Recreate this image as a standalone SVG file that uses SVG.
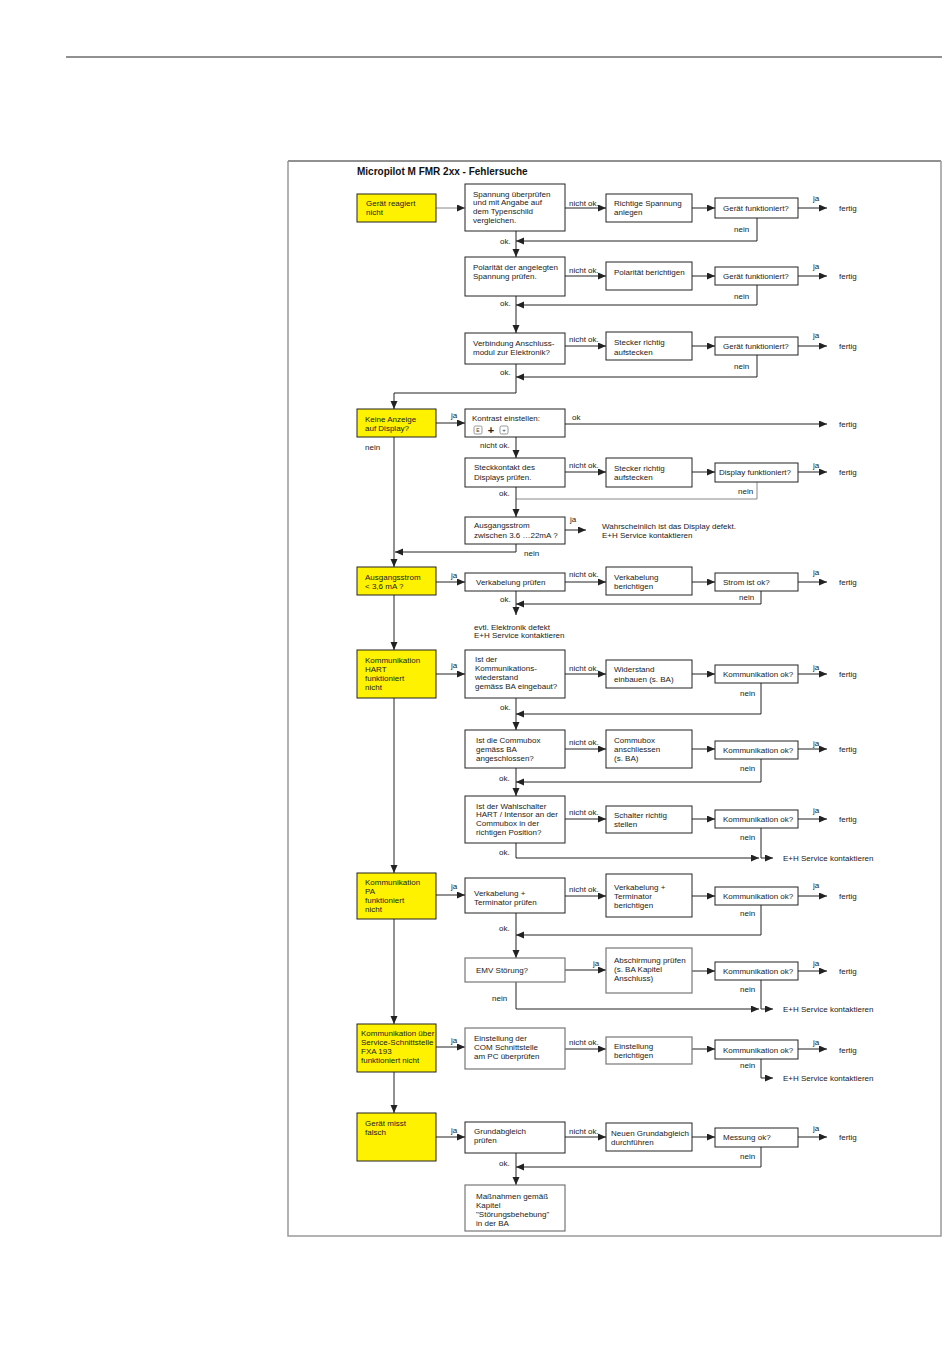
<svg xmlns="http://www.w3.org/2000/svg" width="950" height="1370" viewBox="0 0 950 1370">
<style>
.t{font-family:"Liberation Sans",Arial,sans-serif;font-size:8px;fill:#222}
.ti{font-family:"Liberation Sans",Arial,sans-serif;font-size:10px;font-weight:bold;fill:#111}
.b{fill:#fff;stroke:#222;stroke-width:1}
.bg{fill:#fff;stroke:#777;stroke-width:1.2}
.y{fill:#fff200;stroke:#222;stroke-width:1}
.c{fill:none;stroke:#222;stroke-width:1}
.cg{fill:none;stroke:#888;stroke-width:1}
.a{marker-end:url(#ah)}
.k{fill:#fff;stroke:#555;stroke-width:0.6}
</style>
<defs>
<marker id="ah" markerUnits="userSpaceOnUse" markerWidth="9" markerHeight="8" refX="8" refY="3.5" orient="auto">
<path d="M0,0 L8,3.5 L0,7 z" fill="#222"/>
</marker>
</defs>
<rect width="950" height="1370" fill="#fff"/>
<g id="page">
<line x1="66" y1="57" x2="942" y2="57" stroke="#222" stroke-width="1"/>
<line x1="288" y1="161" x2="941" y2="161" stroke="#222" stroke-width="1"/>
<path d="M288,161 V1236 H941 V161" fill="none" stroke="#999" stroke-width="1.5"/>
<text class="ti" x="357" y="175">Micropilot M FMR 2xx - Fehlersuche</text>
</g>
<g id="connectors">
<path class="cg a" d="M436,208 H465"/>
<path class="c a" d="M565,208 H606"/>
<path class="c a" d="M692,208 H715"/>
<path class="c a" d="M798,208 H827"/>
<path class="c a" d="M757,218 V241 H516"/>
<path class="c a" d="M516,231 V257"/>
<path class="c a" d="M565,276 H606"/>
<path class="c a" d="M692,276 H715"/>
<path class="c a" d="M798,276 H827"/>
<path class="c a" d="M757,285 V305 H516"/>
<path class="c a" d="M516,296 V333"/>
<path class="c a" d="M565,346 H606"/>
<path class="c a" d="M692,346 H715"/>
<path class="c a" d="M798,346 H827"/>
<path class="c a" d="M757,355 V377 H516"/>
<path class="c a" d="M516,364 V393 H394 V409"/>
<path class="c a" d="M436,423 H465"/>
<path class="c a" d="M565,424 H827"/>
<path class="c a" d="M516,437 V458"/>
<path class="c a" d="M565,472 H606"/>
<path class="c a" d="M692,472 H715"/>
<path class="c a" d="M798,472 H827"/>
<path class="cg" d="M757,482 V499 H516"/>
<path class="c a" d="M516,487 V517"/>
<path class="c a" d="M565,530 H586"/>
<path class="c a" d="M516,544 V552 H395"/>
<path class="c a" d="M394,437 V567"/>
<path class="c a" d="M394,595 V650"/>
<path class="c a" d="M394,698 V873"/>
<path class="c a" d="M394,919 V1024"/>
<path class="c a" d="M394,1072 V1113"/>
<path class="c a" d="M436,582 H465"/>
<path class="c a" d="M565,582 H606"/>
<path class="c a" d="M692,582 H715"/>
<path class="c a" d="M798,582 H827"/>
<path class="c a" d="M761,591 V604 H516"/>
<path class="c a" d="M516,591 V615"/>
<path class="c a" d="M436,674 H465"/>
<path class="c a" d="M565,674 H606"/>
<path class="c a" d="M692,674 H715"/>
<path class="c a" d="M798,674 H827"/>
<path class="c a" d="M761,683 V714 H516"/>
<path class="c a" d="M516,698 V730"/>
<path class="c a" d="M565,749 H606"/>
<path class="c a" d="M692,749 H715"/>
<path class="c a" d="M798,749 H827"/>
<path class="c a" d="M761,759 V782 H516"/>
<path class="c a" d="M516,768 V796"/>
<path class="c a" d="M565,819 H606"/>
<path class="c a" d="M692,819 H715"/>
<path class="c a" d="M798,819 H827"/>
<path class="c a" d="M516,843 V858 H759"/>
<path class="c a" d="M761,828 V858 H773"/>
<path class="c a" d="M436,895 H465"/>
<path class="c a" d="M565,896 H606"/>
<path class="c a" d="M692,896 H715"/>
<path class="c a" d="M798,896 H827"/>
<path class="c a" d="M761,905 V935 H516"/>
<path class="c a" d="M516,913 V958"/>
<path class="c a" d="M565,970 H606"/>
<path class="c a" d="M692,971 H715"/>
<path class="c a" d="M798,971 H827"/>
<path class="c a" d="M516,982 V1009 H759"/>
<path class="c a" d="M761,980 V1009 H773"/>
<path class="c a" d="M436,1047 H465"/>
<path class="c a" d="M565,1049 H606"/>
<path class="c a" d="M692,1049 H715"/>
<path class="c a" d="M798,1049 H827"/>
<path class="c a" d="M761,1059 V1078 H773"/>
<path class="c a" d="M436,1137 H465"/>
<path class="c a" d="M565,1137 H606"/>
<path class="c a" d="M692,1137 H715"/>
<path class="c a" d="M798,1137 H827"/>
<path class="c a" d="M761,1147 V1167 H516"/>
<path class="c a" d="M516,1153 V1185"/>
</g>
<g id="labels">
<text class="t" x="569" y="205.5">nicht ok.</text>
<text class="t" x="813" y="200.5">ja</text>
<text class="t" x="839" y="211">fertig</text>
<text class="t" x="734" y="232">nein</text>
<text class="t" x="500" y="243.5">ok.</text>
<text class="t" x="569" y="272.5">nicht ok.</text>
<text class="t" x="813" y="268.5">ja</text>
<text class="t" x="839" y="279">fertig</text>
<text class="t" x="734" y="298.5">nein</text>
<text class="t" x="500" y="305.5">ok.</text>
<text class="t" x="569" y="341.5">nicht ok.</text>
<text class="t" x="813" y="337.5">ja</text>
<text class="t" x="839" y="349">fertig</text>
<text class="t" x="734" y="368.5">nein</text>
<text class="t" x="500" y="374.5">ok.</text>
<text class="t" x="451" y="417.5">ja</text>
<text class="t" x="365" y="449.5">nein</text>
<text class="t" x="572" y="419.5">ok</text>
<text class="t" x="839" y="426.5">fertig</text>
<text class="t" x="480" y="447.5">nicht ok.</text>
<text class="t" x="569" y="467.5">nicht ok.</text>
<text class="t" x="813" y="467.5">ja</text>
<text class="t" x="839" y="474.5">fertig</text>
<text class="t" x="738" y="493.5">nein</text>
<text class="t" x="499" y="495.5">ok.</text>
<text class="t" x="570" y="521.5">ja</text>
<text class="t" x="602" y="528.5">Wahrscheinlich ist das Display defekt.</text>
<text class="t" x="602" y="537.5">E+H Service kontaktieren</text>
<text class="t" x="524" y="555.5">nein</text>
<text class="t" x="451" y="577.5">ja</text>
<text class="t" x="569" y="576.5">nicht ok.</text>
<text class="t" x="813" y="574.5">ja</text>
<text class="t" x="839" y="584.5">fertig</text>
<text class="t" x="739" y="599.5">nein</text>
<text class="t" x="500" y="601.5">ok.</text>
<text class="t" x="474" y="629.5">evtl. Elektronik defekt</text>
<text class="t" x="474" y="637.5">E+H Service kontaktieren</text>
<text class="t" x="451" y="667.5">ja</text>
<text class="t" x="569" y="670.5">nicht ok.</text>
<text class="t" x="813" y="669.5">ja</text>
<text class="t" x="839" y="676.5">fertig</text>
<text class="t" x="740" y="695.5">nein</text>
<text class="t" x="500" y="709.5">ok.</text>
<text class="t" x="569" y="744.5">nicht ok.</text>
<text class="t" x="813" y="745.5">ja</text>
<text class="t" x="839" y="751.5">fertig</text>
<text class="t" x="740" y="770.5">nein</text>
<text class="t" x="499" y="780.5">ok.</text>
<text class="t" x="569" y="814.5">nicht ok.</text>
<text class="t" x="813" y="812.5">ja</text>
<text class="t" x="839" y="821.5">fertig</text>
<text class="t" x="740" y="839.5">nein</text>
<text class="t" x="499" y="854.5">ok.</text>
<text class="t" x="783" y="860.5">E+H Service kontaktieren</text>
<text class="t" x="451" y="888.5">ja</text>
<text class="t" x="569" y="891.5">nicht ok.</text>
<text class="t" x="813" y="887.5">ja</text>
<text class="t" x="839" y="898.5">fertig</text>
<text class="t" x="740" y="915.5">nein</text>
<text class="t" x="499" y="930.5">ok.</text>
<text class="t" x="593" y="965.5">ja</text>
<text class="t" x="813" y="965.5">ja</text>
<text class="t" x="839" y="973.5">fertig</text>
<text class="t" x="740" y="991.5">nein</text>
<text class="t" x="492" y="1000.5">nein</text>
<text class="t" x="783" y="1011.5">E+H Service kontaktieren</text>
<text class="t" x="451" y="1042.5">ja</text>
<text class="t" x="569" y="1044.5">nicht ok.</text>
<text class="t" x="813" y="1044.5">ja</text>
<text class="t" x="839" y="1052.5">fertig</text>
<text class="t" x="740" y="1067.5">nein</text>
<text class="t" x="783" y="1080.5">E+H Service kontaktieren</text>
<text class="t" x="451" y="1132.5">ja</text>
<text class="t" x="569" y="1134">nicht ok.</text>
<text class="t" x="813" y="1130.5">ja</text>
<text class="t" x="839" y="1139.5">fertig</text>
<text class="t" x="740" y="1158.5">nein</text>
<text class="t" x="499" y="1165.5">ok.</text>
</g>
<g id="n_geraet_reagiert"><rect class="y" x="357" y="194" width="79" height="28"/><text class="t" x="366" y="206">Gerät reagiert</text><text class="t" x="366" y="215">nicht</text></g>
<g id="n_spannung"><rect class="b" x="465" y="184" width="100" height="47"/><text class="t" x="473" y="196.5">Spannung überprüfen</text><text class="t" x="473" y="205">und mit Angabe auf</text><text class="t" x="473" y="213.5">dem Typenschild</text><text class="t" x="473" y="222.5">vergleichen.</text></g>
<g id="n_richtige_spannung"><rect class="b" x="606" y="194" width="86" height="28"/><text class="t" x="614" y="206">Richtige Spannung</text><text class="t" x="614" y="215">anlegen</text></g>
<g id="n_check1"><rect class="b" x="715" y="198" width="83" height="20"/><text class="t" x="723" y="211">Gerät funktioniert?</text></g>
<g id="n_polaritaet"><rect class="b" x="465" y="257" width="100" height="39"/><text class="t" x="473" y="270">Polarität der angelegten</text><text class="t" x="473" y="279">Spannung prüfen.</text></g>
<g id="n_polaritaet_fix"><rect class="b" x="606" y="262" width="86" height="28"/><text class="t" x="614" y="274.5">Polarität berichtigen</text></g>
<g id="n_check2"><rect class="b" x="715" y="267" width="83" height="18"/><text class="t" x="723" y="279">Gerät funktioniert?</text></g>
<g id="n_verbindung"><rect class="b" x="465" y="333" width="100" height="31"/><text class="t" x="473" y="345.5">Verbindung Anschluss-</text><text class="t" x="473" y="354.5">modul zur Elektronik?</text></g>
<g id="n_stecker1"><rect class="b" x="606" y="332" width="86" height="28"/><text class="t" x="614" y="345">Stecker richtig</text><text class="t" x="614" y="354.5">aufstecken</text></g>
<g id="n_check3"><rect class="b" x="715" y="337" width="83" height="18"/><text class="t" x="723" y="349">Gerät funktioniert?</text></g>
<g id="n_keine_anzeige"><rect class="y" x="357" y="409" width="79" height="28"/><text class="t" x="365" y="421.5">Keine Anzeige</text><text class="t" x="365" y="430.5">auf Display?</text></g>
<g id="n_kontrast"><rect class="b" x="465" y="409" width="100" height="28"/><text class="t" x="472" y="420.5">Kontrast einstellen:</text>
<rect class="k" x="474" y="426" width="8" height="8" rx="1.5"/><text x="478" y="432" text-anchor="middle" font-family="Liberation Sans, Arial, sans-serif" font-size="5" fill="#333">E</text>
<text x="491" y="434" text-anchor="middle" font-family="Liberation Sans, Arial, sans-serif" font-size="11" font-weight="bold" fill="#222">+</text>
<rect class="k" x="500" y="426" width="8" height="8" rx="1.5"/><text x="504" y="432" text-anchor="middle" font-family="Liberation Sans, Arial, sans-serif" font-size="6" fill="#333">+</text></g>
<g id="n_steckkontakt"><rect class="b" x="465" y="458" width="100" height="29"/><text class="t" x="474" y="470">Steckkontakt des</text><text class="t" x="474" y="479.5">Displays prüfen.</text></g>
<g id="n_stecker2"><rect class="b" x="606" y="458" width="86" height="29"/><text class="t" x="614" y="470.5">Stecker richtig</text><text class="t" x="614" y="479.5">aufstecken</text></g>
<g id="n_check_display"><rect class="b" x="715" y="463" width="83" height="19"/><text class="t" x="719" y="475">Display funktioniert?</text></g>
<g id="n_ausgang_22"><rect class="b" x="465" y="517" width="100" height="27"/><text class="t" x="474" y="527.5">Ausgangsstrom</text><text class="t" x="474" y="537.5">zwischen 3.6 …22mA ?</text></g>
<g id="n_ausgangsstrom"><rect class="y" x="357" y="567" width="79" height="28"/><text class="t" x="365" y="579.5">Ausgangsstrom</text><text class="t" x="365" y="588.5">&lt; 3,6 mA ?</text></g>
<g id="n_verkabelung"><rect class="b" x="465" y="573" width="100" height="18"/><text class="t" x="476" y="584.5">Verkabelung prüfen</text></g>
<g id="n_verkabelung_fix"><rect class="b" x="606" y="567" width="86" height="28"/><text class="t" x="614" y="579.5">Verkabelung</text><text class="t" x="614" y="588.5">berichtigen</text></g>
<g id="n_strom_ok"><rect class="b" x="715" y="573" width="83" height="18"/><text class="t" x="723" y="584.5">Strom ist ok?</text></g>
<g id="n_hart"><rect class="y" x="357" y="650" width="79" height="48"/><text class="t" x="365" y="662.5">Kommunikation</text><text class="t" x="365" y="671.5">HART</text><text class="t" x="365" y="680.5">funktioniert</text><text class="t" x="365" y="689.5">nicht</text></g>
<g id="n_widerstand_q"><rect class="b" x="465" y="650" width="100" height="48"/><text class="t" x="475" y="661.5">Ist der</text><text class="t" x="475" y="670.5">Kommunikations-</text><text class="t" x="475" y="679.5">wiederstand</text><text class="t" x="475" y="689">gemäss BA eingebaut?</text></g>
<g id="n_widerstand_fix"><rect class="b" x="606" y="660" width="86" height="28"/><text class="t" x="614" y="671.5">Widerstand</text><text class="t" x="614" y="681.5">einbauen (s. BA)</text></g>
<g id="n_komm1"><rect class="b" x="715" y="665" width="83" height="18"/><text class="t" x="723" y="676.5">Kommunikation ok?</text></g>
<g id="n_commubox_q"><rect class="b" x="465" y="730" width="100" height="38"/><text class="t" x="476" y="742.5">Ist die Commubox</text><text class="t" x="476" y="751.5">gemäss BA</text><text class="t" x="476" y="760.5">angeschlossen?</text></g>
<g id="n_commubox_fix"><rect class="b" x="606" y="730" width="86" height="38"/><text class="t" x="614" y="742.5">Commubox</text><text class="t" x="614" y="751.5">anschliessen</text><text class="t" x="614" y="760.5">(s. BA)</text></g>
<g id="n_komm2"><rect class="b" x="715" y="741" width="83" height="18"/><text class="t" x="723" y="752.5">Kommunikation ok?</text></g>
<g id="n_wahlschalter_q"><rect class="b" x="465" y="796" width="100" height="47"/><text class="t" x="476" y="808.5">Ist der Wahlschalter</text><text class="t" x="476" y="816.5">HART / Intensor an der</text><text class="t" x="476" y="825.5">Commubox in der</text><text class="t" x="476" y="834.5">richtigen Position?</text></g>
<g id="n_schalter_fix"><rect class="b" x="606" y="806" width="86" height="27"/><text class="t" x="614" y="817.5">Schalter richtig</text><text class="t" x="614" y="826.5">stellen</text></g>
<g id="n_komm3"><rect class="b" x="715" y="810" width="83" height="18"/><text class="t" x="723" y="822">Kommunikation ok?</text></g>
<g id="n_pa"><rect class="y" x="357" y="873" width="79" height="46"/><text class="t" x="365" y="884.5">Kommunikation</text><text class="t" x="365" y="893.5">PA</text><text class="t" x="365" y="902.5">funktioniert</text><text class="t" x="365" y="911.5">nicht</text></g>
<g id="n_terminator_q"><rect class="b" x="465" y="878" width="100" height="35"/><text class="t" x="474" y="895.5">Verkabelung +</text><text class="t" x="474" y="904.5">Terminator prüfen</text></g>
<g id="n_terminator_fix"><rect class="b" x="606" y="874" width="86" height="43"/><text class="t" x="614" y="889.5">Verkabelung +</text><text class="t" x="614" y="898.5">Terminator</text><text class="t" x="614" y="907.5">berichtigen</text></g>
<g id="n_komm4"><rect class="b" x="715" y="887" width="83" height="18"/><text class="t" x="723" y="899">Kommunikation ok?</text></g>
<g id="n_emv"><rect class="bg" x="465" y="958" width="100" height="24"/><text class="t" x="476" y="972.5">EMV Störung?</text></g>
<g id="n_abschirmung"><rect class="bg" x="606" y="948" width="86" height="45"/><text class="t" x="614" y="962.5">Abschirmung prüfen</text><text class="t" x="614" y="971.5">(s. BA Kapitel</text><text class="t" x="614" y="980.5">Anschluss)</text></g>
<g id="n_komm5"><rect class="b" x="715" y="962" width="83" height="18"/><text class="t" x="723" y="974">Kommunikation ok?</text></g>
<g id="n_fxa"><rect class="y" x="357" y="1024" width="79" height="48"/><text class="t" x="361" y="1035.5">Kommunikation über</text><text class="t" x="361" y="1044.5">Service-Schnittstelle</text><text class="t" x="361" y="1053.5">FXA 193</text><text class="t" x="361" y="1062.5">funktioniert nicht</text></g>
<g id="n_com_q"><rect class="bg" x="465" y="1028" width="100" height="41"/><text class="t" x="474" y="1040.5">Einstellung der</text><text class="t" x="474" y="1049.5">COM Schnittstelle</text><text class="t" x="474" y="1058.5">am PC überprüfen</text></g>
<g id="n_com_fix"><rect class="bg" x="606" y="1037" width="86" height="27"/><text class="t" x="614" y="1048.5">Einstellung</text><text class="t" x="614" y="1057.5">berichtigen</text></g>
<g id="n_komm6"><rect class="b" x="715" y="1040" width="83" height="19"/><text class="t" x="723" y="1052.5">Kommunikation ok?</text></g>
<g id="n_misst_falsch"><rect class="y" x="357" y="1113" width="79" height="48"/><text class="t" x="365" y="1125.5">Gerät misst</text><text class="t" x="365" y="1134.5">falsch</text></g>
<g id="n_grundabgleich"><rect class="b" x="465" y="1122" width="100" height="31"/><text class="t" x="474" y="1133.5">Grundabgleich</text><text class="t" x="474" y="1142.5">prüfen</text></g>
<g id="n_grundabgleich_fix"><rect class="b" x="606" y="1123" width="86" height="28"/><text class="t" x="611" y="1135.5">Neuen Grundabgleich</text><text class="t" x="611" y="1144.5">durchführen</text></g>
<g id="n_messung_ok"><rect class="b" x="715" y="1128" width="83" height="19"/><text class="t" x="723" y="1139.5">Messung ok?</text></g>
<g id="n_massnahmen"><rect class="bg" x="465" y="1185" width="100" height="46"/><text class="t" x="476" y="1198.5">Maßnahmen gemäß</text><text class="t" x="476" y="1207.5">Kapitel</text><text class="t" x="476" y="1216.5">"Störungsbehebung"</text><text class="t" x="476" y="1225.5">in der BA</text></g>
</svg>
